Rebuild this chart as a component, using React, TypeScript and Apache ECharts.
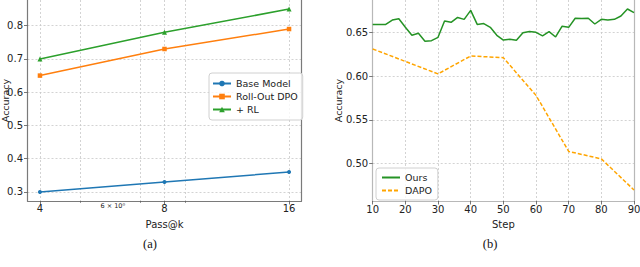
import React, { useEffect, useRef } from "react";
import * as echarts from "echarts";

// ---- Data: panel (a) ----
const passK = [4, 8, 16];
const baseModel = [0.3, 0.33, 0.36];
const rollOutDPO = [0.65, 0.73, 0.79];
const plusRL = [0.7, 0.78, 0.85];
const accTicksA = [0.3, 0.4, 0.5, 0.6, 0.7, 0.8];
const passKTickLabels = ["4", "8", "16"];
const minorGridK = [5, 7, 9];
const minorLabelK = [6];
const minorLabelText = ["6 × 10⁰"];

// ---- Data: panel (b) ----
const steps = [
  10, 12, 14, 16, 18, 20, 22, 24, 26, 28, 30, 32, 34, 36, 38, 40, 42, 44, 46, 48, 50,
  52, 54, 56, 58, 60, 62, 64, 66, 68, 70, 72, 74, 76, 78, 80, 82, 84, 86, 88, 90,
];
const ours = [
  0.659, 0.659, 0.659, 0.664, 0.6655, 0.6557, 0.6466, 0.6489, 0.6397, 0.6405, 0.6443,
  0.663, 0.6614, 0.667, 0.6648, 0.675, 0.659, 0.66, 0.6557, 0.6466, 0.6412, 0.642,
  0.641, 0.6496, 0.651, 0.65, 0.646, 0.6508, 0.6447, 0.657, 0.6557, 0.666, 0.6658,
  0.666, 0.6595, 0.6648, 0.664, 0.6648, 0.6686, 0.6766, 0.6724,
];
const dapoSteps = [10, 30, 40, 50, 60, 70, 80, 90];
const dapo = [0.631, 0.6025, 0.623, 0.621, 0.578, 0.514, 0.5055, 0.47];
const accTicksB = [0.5, 0.55, 0.6, 0.65];

const FONT = "DejaVu Sans";
const TXT = "#222";

// the Pass@k axis is logarithmic (base 2): positions are log2(k)
const lg = (k: number) => Math.log2(k);

export default function App() {
  const ref = useRef<HTMLDivElement>(null);
  useEffect(() => {
    if (!ref.current) return;
    const chart = echarts.init(ref.current, null, { renderer: "svg" });
    const gridStyle = { color: "#c8c8c8", type: [2, 2], width: 0.8 };
    const gridLine = { show: true, lineStyle: gridStyle };
    const axisLabelBase = { color: TXT, fontFamily: FONT, fontSize: 10 };
    const spineA = { show: true, lineStyle: { color: "#7a7a7a", width: 1.2 } };
    const spineB = { show: true, lineStyle: { color: "#b8b8b8", width: 1.2 } };
    const tick = { show: true, length: 3.5, lineStyle: { color: "#555", width: 0.8 } };
    const kTicks = passK.map(lg);
    const kMinor = minorGridK.map(lg);
    const kMinorLabel = minorLabelK.map(lg);
    const nameStyle = { color: TXT, fontFamily: FONT, fontSize: 10 };
    const kMin = lg(passK[0]) - 0.1;
    const kMax = lg(passK[passK.length - 1]) + 0.1;

    const legendBase = {
      orient: "vertical",
      itemWidth: 18,
      itemHeight: 7,
      itemGap: 2,
      backgroundColor: "rgba(255,255,255,0.8)",
      borderColor: "#d0d0d0",
      borderWidth: 1,
      borderRadius: 3,
      textStyle: { color: TXT, fontFamily: FONT, fontSize: 9.5, lineHeight: 11 },
    };

    const option: any = {
      animation: false,
      textStyle: { fontFamily: FONT },
      grid: [
        { left: 27.5, top: 0, width: 274, height: 201, outerBoundsMode: "none", containLabel: false },
        { left: 372.7, top: 0, width: 261.3, height: 201, outerBoundsMode: "none", containLabel: false },
      ],
      xAxis: [
        {
          type: "value",
          gridIndex: 0,
          min: kMin,
          max: kMax,
          axisLine: spineA,
          axisTick: { ...tick, customValues: kTicks },
          splitLine: gridLine,
          axisLabel: {
            ...axisLabelBase,
            margin: 2.5,
            customValues: kTicks,
            formatter: (v: number) => {
              const i = kTicks.findIndex((t) => Math.abs(t - v) < 1e-6);
              return i >= 0 ? passKTickLabels[i] : "";
            },
          },
          name: "Pass@k",
          nameLocation: "middle",
          nameGap: 18,
          nameMoveOverlap: false,
          nameTextStyle: nameStyle,
        },
        {
          type: "value",
          gridIndex: 1,
          min: 10,
          max: 90,
          interval: 10,
          axisLine: spineB,
          axisTick: tick,
          splitLine: gridLine,
          axisLabel: { ...axisLabelBase, margin: 3 },
          name: "Step",
          nameLocation: "middle",
          nameGap: 18,
          nameMoveOverlap: false,
          nameTextStyle: nameStyle,
        },
        {
          // minor (log) ticks / grid of panel (a)
          type: "value",
          gridIndex: 0,
          position: "bottom",
          min: kMin,
          max: kMax,
          axisLine: { show: false },
          axisTick: {
            show: true,
            length: 2,
            customValues: kMinor,
            lineStyle: { color: "#555", width: 0.6 },
          },
          splitLine: gridLine,
          axisLabel: {
            show: true,
            color: TXT,
            fontFamily: FONT,
            fontSize: 6.5,
            margin: 1.5,
            customValues: kMinorLabel,
            formatter: (v: number) => {
              const i = kMinorLabel.findIndex((t) => Math.abs(t - v) < 1e-6);
              return i >= 0 ? minorLabelText[i] : "";
            },
          },
        },
      ],
      yAxis: [
        {
          type: "value",
          gridIndex: 0,
          min: 0.2729,
          max: 0.8773,
          axisLine: spineA,
          axisTick: { ...tick, customValues: accTicksA },
          splitLine: gridLine,
          axisLabel: {
            ...axisLabelBase,
            margin: 4.5,
            customValues: accTicksA,
            formatter: (v: number) => v.toFixed(1),
          },
          name: "Accuracy",
          nameLocation: "middle",
          nameGap: 17,
          nameMoveOverlap: false,
          nameTextStyle: { ...nameStyle, fontSize: 9.5, lineHeight: 10 },
        },
        {
          type: "value",
          gridIndex: 0,
          position: "right",
          min: 0,
          max: 1,
          axisLine: spineA,
          axisTick: { show: false },
          axisLabel: { show: false },
          splitLine: { show: false },
        },
        {
          type: "value",
          gridIndex: 1,
          min: 0.4574,
          max: 0.6869,
          axisLine: spineB,
          axisTick: { ...tick, customValues: accTicksB },
          splitLine: gridLine,
          axisLabel: {
            ...axisLabelBase,
            margin: 4.5,
            customValues: accTicksB,
            formatter: (v: number) => v.toFixed(2),
          },
          name: "Accuracy",
          nameLocation: "middle",
          nameGap: 29,
          nameMoveOverlap: false,
          nameTextStyle: { ...nameStyle, fontSize: 9.5 },
        },
        {
          type: "value",
          gridIndex: 1,
          position: "right",
          min: 0,
          max: 1,
          axisLine: spineB,
          axisTick: { show: false },
          axisLabel: { show: false },
          splitLine: { show: false },
        },
      ],
      legend: [
        {
          ...legendBase,
          data: ["Base Model", "Roll-Out DPO", "+ RL"],
          left: 209,
          top: 73,
          padding: [5, 5, 5, 3],
        },
        {
          ...legendBase,
          data: ["Ours", "DAPO"],
          left: 376,
          top: 168,
          padding: [4, 6, 4, 5],
          itemStyle: { opacity: 0 },
        },
      ],
      series: [
        {
          name: "Base Model",
          type: "line",
          xAxisIndex: 0,
          yAxisIndex: 0,
          data: passK.map((k, i) => [lg(k), baseModel[i]]),
          color: "#1f77b4",
          symbol: "circle",
          symbolSize: 4,
          lineStyle: { width: 1.5 },
        },
        {
          name: "Roll-Out DPO",
          type: "line",
          xAxisIndex: 0,
          yAxisIndex: 0,
          data: passK.map((k, i) => [lg(k), rollOutDPO[i]]),
          color: "#ff7f0e",
          symbol: "rect",
          symbolSize: 4.5,
          lineStyle: { width: 1.5 },
        },
        {
          name: "+ RL",
          type: "line",
          xAxisIndex: 0,
          yAxisIndex: 0,
          data: passK.map((k, i) => [lg(k), plusRL[i]]),
          color: "#2ca02c",
          symbol: "triangle",
          symbolSize: 5,
          lineStyle: { width: 1.5 },
        },
        {
          name: "Ours",
          type: "line",
          xAxisIndex: 1,
          yAxisIndex: 2,
          data: steps.map((s, i) => [s, ours[i]]),
          color: "#259325",
          showSymbol: false,
          symbol: "none",
          lineStyle: { width: 1.5 },
        },
        {
          name: "DAPO",
          type: "line",
          xAxisIndex: 1,
          yAxisIndex: 2,
          data: dapoSteps.map((s, i) => [s, dapo[i]]),
          color: "#ffa500",
          showSymbol: false,
          symbol: "none",
          lineStyle: { width: 1.5, type: [4, 2] },
        },
      ],
      graphic: [
        {
          type: "text",
          x: 150,
          y: 244,
          style: {
            text: "(a)",
            fill: "#111",
            font: "12.5px 'Liberation Serif'",
            align: "center",
            verticalAlign: "middle",
          },
        },
        {
          type: "text",
          x: 490,
          y: 244,
          style: {
            text: "(b)",
            fill: "#111",
            font: "12.5px 'Liberation Serif'",
            align: "center",
            verticalAlign: "middle",
          },
        },
      ],
    };
    chart.setOption(option);
    return () => chart.dispose();
  }, []);
  return (
    <div
      ref={ref}
      style={{ position: "fixed", left: 0, top: 0, width: 640, height: 267, background: "#fff" }}
    />
  );
}
